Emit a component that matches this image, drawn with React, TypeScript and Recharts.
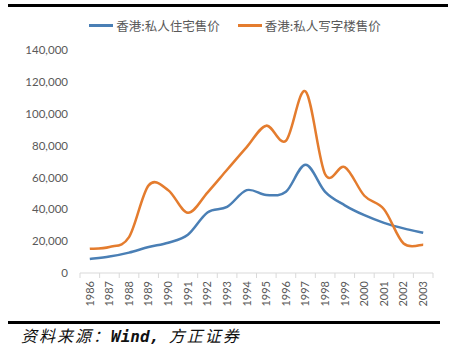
import { LineChart, Line, XAxis, YAxis } from 'recharts';

const years = ['1986', '1987', '1988', '1989', '1990', '1991', '1992', '1993', '1994', '1995', '1996', '1997', '1998', '1999', '2000', '2001', '2002', '2003'];
const residential = [8800, 10300, 12800, 16300, 19000, 24000, 38000, 41500, 52000, 49000, 51000, 68000, 51000, 42500, 36300, 31500, 28000, 25300];
const office = [15200, 16300, 22500, 55000, 52000, 37800, 50500, 64800, 79000, 92500, 83000, 114000, 62000, 66500, 48500, 40000, 18500, 17800];
const seriesNames = ['香港:私人住宅售价', '香港:私人写字楼售价'];
const yTicks = [0, 20000, 40000, 60000, 80000, 100000, 120000, 140000];

const BLUE = '#4a7fb5';
const ORANGE = '#e47c2e';
const HALF = 9.8;

const data = years.map((year, i) => ({ year, residential: residential[i], office: office[i] }));

// Excel-like smoothed line (uniform Catmull-Rom as cubic Bezier)
const smoothCurve = (context: any) => {
  let pts: number[][] = [];
  return {
    areaStart() {},
    areaEnd() {},
    lineStart() {
      pts = [];
    },
    point(x: number, y: number) {
      pts.push([+x, +y]);
    },
    lineEnd() {
      const n = pts.length;
      if (!n) return;
      context.moveTo(pts[0][0], pts[0][1]);
      for (let i = 0; i < n - 1; i++) {
        const p0 = pts[Math.max(i - 1, 0)];
        const p1 = pts[i];
        const p2 = pts[i + 1];
        const p3 = pts[Math.min(i + 2, n - 1)];
        context.bezierCurveTo(
          p1[0] + (p2[0] - p0[0]) / 6, p1[1] + (p2[1] - p0[1]) / 6,
          p2[0] - (p3[0] - p1[0]) / 6, p2[1] - (p3[1] - p1[1]) / 6,
          p2[0], p2[1]
        );
      }
    },
  };
};

const YearTick = (props: any) => {
  const { x, y, payload, index } = props;
  return (
    <g>
      <line x1={x - HALF} x2={x - HALF} y1={y - 8} y2={y - 3} stroke="#d9d9d9" />
      {index === years.length - 1 && (
        <line x1={x + HALF} x2={x + HALF} y1={y - 8} y2={y - 3} stroke="#d9d9d9" />
      )}
      <text
        x={x}
        y={y}
        transform={`rotate(-90 ${x} ${y})`}
        textAnchor="end"
        dy="0.35em"
        fill="#595959"
        fontSize={11}
        fontFamily="Lato, 'Open Sans', sans-serif"
      >
        {payload.value}
      </text>
    </g>
  );
};

const App = () => {
  return (
    <div style={{ position: 'absolute', left: 0, top: 0, width: 459, height: 351, background: '#fff' }}>
      <div style={{ position: 'absolute', left: 8, top: 4, width: 440, height: 3, background: '#000' }} />
      <div
        style={{
          position: 'absolute', left: 0, top: 17, width: 459, display: 'flex', justifyContent: 'center',
          paddingLeft: 11, boxSizing: 'border-box', fontFamily: "'Noto Sans CJK SC', sans-serif",
          fontSize: 12.5, color: '#595959', lineHeight: '17px',
        }}
      >
        {seriesNames.map((name, i) => (
          <div key={name} style={{ display: 'flex', alignItems: 'center', marginLeft: i === 0 ? 0 : 18 }}>
            <span style={{ display: 'inline-block', width: 24, height: 2.5, background: i === 0 ? BLUE : ORANGE, marginRight: 3 }} />
            <span>{name}</span>
          </div>
        ))}
      </div>
      <LineChart width={459} height={318} data={data} margin={{ top: 50, right: 26, left: 20, bottom: 5 }}>
        <XAxis
          dataKey="year"
          interval={0}
          tick={<YearTick />}
          tickLine={false}
          axisLine={{ stroke: '#d9d9d9' }}
          height={40}
          padding={{ left: HALF, right: HALF }}
        />
        <YAxis
          domain={[0, 140000]}
          ticks={yTicks}
          width={60}
          axisLine={false}
          tickLine={false}
          tickMargin={6}
          tickFormatter={(v: number) => v.toLocaleString('en-US')}
          tick={{ fill: '#595959', fontSize: 11.5, fontFamily: "Lato, 'Open Sans', sans-serif" }}
        />
        <Line type={smoothCurve as any} dataKey="residential" name={seriesNames[0]} stroke={BLUE} strokeWidth={2.5} dot={false} isAnimationActive={false} />
        <Line type={smoothCurve as any} dataKey="office" name={seriesNames[1]} stroke={ORANGE} strokeWidth={2.5} dot={false} isAnimationActive={false} />
      </LineChart>
      <div style={{ position: 'absolute', left: 8, top: 321, width: 432, height: 2.5, background: '#000' }} />
      <div
        style={{
          position: 'absolute', left: 21, top: 325, fontSize: 16, fontStyle: 'italic', color: '#111',
          fontFamily: "'Noto Sans CJK SC', serif", whiteSpace: 'nowrap', lineHeight: '20px', letterSpacing: 2,
        }}
      >
        资料来源：<span style={{ fontFamily: "'DejaVu Sans Mono', monospace", fontWeight: 'bold', letterSpacing: 0 }}>Wind, </span>方正证券
      </div>
    </div>
  );
};

export default App;
